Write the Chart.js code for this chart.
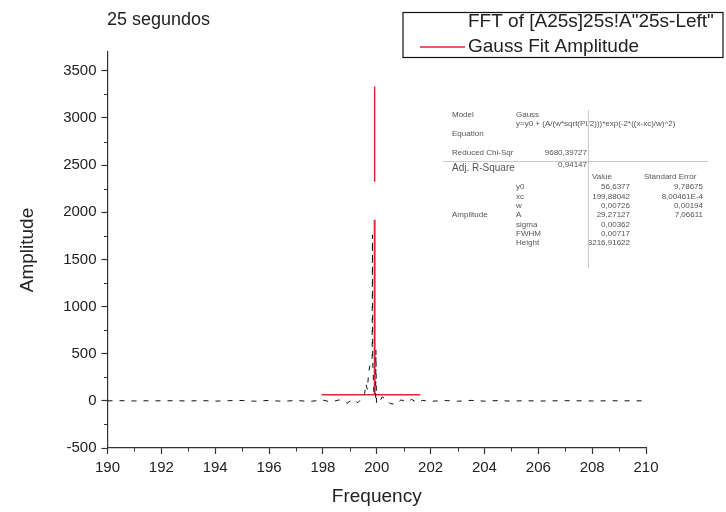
<!DOCTYPE html>
<html>
<head>
<meta charset="utf-8">
<script src="https://cdn.jsdelivr.net/npm/chart.js@4.4.1/dist/chart.umd.min.js"></script>
<style>body{margin:0;background:#fff}</style>
</head>
<body>
<canvas id="c" width="726" height="512"></canvas>
<script>
// FFT of [A25s]25s!A"25s-Left" (black dashed)
const fftFreq = [190, 190.5, 191, 191.5, 192, 192.5, 193, 193.5, 194, 194.5, 195, 195.5, 196, 196.5, 197, 197.5,
    198, 198.3, 198.6, 198.9, 199.1, 199.3, 199.45, 199.55, 199.6, 199.65, 199.7, 199.75, 199.83, 199.84, 199.85,
    199.9, 199.96, 199.97, 199.99, 200.08, 200.2, 200.35, 200.5, 200.7, 200.9, 201.1, 201.3, 201.5, 201.7,
    202, 202.5, 203, 203.5, 204, 204.5, 205, 205.5, 206, 207, 208, 209, 210];
const fftAmp = [0, 2, -1, 1, 0, 2, -2, 3, -3, 2, 4, -4, 5, -5, 4, -6,
    8, -12, 10, -25, 15, -20, 30, 80, 180, 120, 300, 380, 450, 1760, 420,
    40, 30, 540, -30, -20, 40, 20, -30, -35, 10, -10, 15, -20, 5,
    -5, 4, -4, 5, -3, 3, -3, 2, -2, 2, -1, 1, 0];

// Gauss Fit Amplitude (red)
const fitFreq = [197.95, 199.9, 199.915, 199.915, 199.917, 199.92, 199.923, 199.925, 199.925, 199.93, 201.62];
const fitAmp = [64, 64, 1920, null, 2330, 3333, 2330, null, 1920, 64, 64];

const yMajor = [-500, 0, 500, 1000, 1500, 2000, 2500, 3000, 3500];
const xMajor = [190, 192, 194, 196, 198, 200, 202, 204, 206, 208, 210];

const legendLabels = ['FFT of [A25s]25s!A"25s-Left"', 'Gauss Fit Amplitude'];

const fitTable = [
    ['Model', 'Gauss'],
    ['Equation', 'y=y0 + (A/(w*sqrt(PI/2)))*exp(-2*((x-xc)/w)^2)'],
    ['Reduced Chi-Sqr', '9680,39727'],
    ['Adj. R-Square', '0,94147']
];
const fitParams = [
    ['', 'y0', '56,6377', '9,78675'],
    ['', 'xc', '199,88042', '8,00461E-4'],
    ['', 'w', '0,00726', '0,00194'],
    ['Amplitude', 'A', '29,27127', '7,06611'],
    ['', 'sigma', '0,00362', ''],
    ['', 'FWHM', '0,00717', ''],
    ['', 'Height', '3216,91622', '']
];

const FONT = '"Liberation Sans", Arial, sans-serif';
const RED = '#e0262f';

const decor = {
    id: 'decor',
    afterDraw(chart) {
        const ctx = chart.ctx;
        const xs = chart.scales.x, ys = chart.scales.y;
        ctx.save();
        // minor ticks
        ctx.strokeStyle = '#333';
        ctx.lineWidth = 1;
        ctx.beginPath();
        for (let v = 191; v < 210; v += 2) {
            const px = Math.round(xs.getPixelForValue(v)) + 0.5;
            ctx.moveTo(px, ys.bottom);
            ctx.lineTo(px, ys.bottom + 3.5);
        }
        for (let v = -250; v < 3700; v += 500) {
            const py = Math.round(ys.getPixelForValue(v)) + 0.5;
            ctx.moveTo(xs.left, py);
            ctx.lineTo(xs.left - 3.5, py);
        }
        ctx.stroke();

        // title
        ctx.fillStyle = '#222';
        ctx.font = '18px ' + FONT;
        ctx.textBaseline = 'middle';
        ctx.textAlign = 'left';
        ctx.fillText('25 segundos', 107, 20);

        // legend box
        ctx.strokeStyle = '#111';
        ctx.lineWidth = 1.2;
        ctx.strokeRect(403, 12.5, 320, 45);
        ctx.font = '19px ' + FONT;
        ctx.fillText(legendLabels[0], 468, 22);
        ctx.fillText(legendLabels[1], 468, 47);
        ctx.strokeStyle = RED;
        ctx.lineWidth = 1.5;
        ctx.beginPath();
        ctx.moveTo(420, 47);
        ctx.lineTo(465, 47);
        ctx.stroke();

        // fit results table
        ctx.fillStyle = '#555';
        ctx.font = '8px ' + FONT;
        ctx.fillText(fitTable[0][0], 452, 115);
        ctx.fillText(fitTable[0][1], 516, 115);
        ctx.fillText(fitTable[1][1], 516, 124);
        ctx.fillText(fitTable[1][0], 452, 134);
        ctx.fillText(fitTable[2][0], 452, 153);
        ctx.textAlign = 'right';
        ctx.fillText(fitTable[2][1], 587, 153);
        ctx.fillText(fitTable[3][1], 587, 165);
        ctx.textAlign = 'left';
        ctx.font = '10px ' + FONT;
        ctx.fillText(fitTable[3][0], 452, 168);
        ctx.font = '8px ' + FONT;
        ctx.fillText('Value', 592, 177);
        ctx.fillText('Standard Error', 644, 177);
        const rowY = [187, 197, 206, 215, 225, 234, 243];
        fitParams.forEach((r, i) => {
            ctx.textAlign = 'left';
            if (r[0]) ctx.fillText(r[0], 452, rowY[i]);
            ctx.fillText(r[1], 516, rowY[i]);
            ctx.textAlign = 'right';
            ctx.fillText(r[2], 630, rowY[i]);
            if (r[3]) ctx.fillText(r[3], 703, rowY[i]);
        });
        ctx.strokeStyle = '#ccc';
        ctx.lineWidth = 1;
        ctx.beginPath();
        ctx.moveTo(588.5, 110);
        ctx.lineTo(588.5, 268);
        ctx.moveTo(443, 161.5);
        ctx.lineTo(708, 161.5);
        ctx.stroke();
        ctx.restore();
    }
};

const ctx = document.getElementById('c').getContext('2d');
const chart = new Chart(ctx, {
    type: 'line',
    data: {
        datasets: [{
            label: legendLabels[0],
            data: fftFreq.map((f, i) => ({ x: f, y: fftAmp[i] })),
            borderColor: '#111',
            borderWidth: 1,
            borderDash: [5, 7],
            pointRadius: 0,
            tension: 0
        }, {
            label: legendLabels[1],
            data: fitFreq.map((f, i) => ({ x: f, y: fitAmp[i] })),
            borderColor: RED,
            borderWidth: 1.5,
            pointRadius: 0,
            spanGaps: false,
            tension: 0
        }]
    },
    options: {
        responsive: false,
        animation: false,
        layout: { padding: { top: 52, right: 80, left: 0, bottom: 0 } },
        plugins: {
            legend: { display: false },
            tooltip: { enabled: false }
        },
        scales: {
            x: {
                type: 'linear',
                min: 190,
                max: 210,
                afterFit: s => { s.height = 64; },
                afterBuildTicks: s => { s.ticks = xMajor.map(v => ({ value: v })); },
                ticks: { color: '#222', font: { family: FONT, size: 15 }, padding: 5, maxRotation: 0, callback: v => String(v) },
                grid: { drawOnChartArea: false, tickLength: 6, tickColor: '#333', tickWidth: 1.2 },
                border: { color: '#333', width: 1.2 },
                title: { display: true, text: 'Frequency', color: '#222', font: { family: FONT, size: 19 }, padding: { top: 0, bottom: 4 } }
            },
            y: {
                min: -500,
                max: 3700,
                afterFit: s => { s.width = 107.5; },
                afterBuildTicks: s => { s.ticks = yMajor.map(v => ({ value: v })); },
                ticks: { color: '#222', font: { family: FONT, size: 15 }, padding: 5, callback: v => String(v) },
                grid: { drawOnChartArea: false, tickLength: 6, tickColor: '#333', tickWidth: 1.2 },
                border: { color: '#333', width: 1.2 },
                title: { display: true, text: 'Amplitude', color: '#222', font: { family: FONT, size: 19 }, padding: { top: 16, bottom: 0 } }
            }
        }
    },
    plugins: [decor]
});
</script>
</body>
</html>
